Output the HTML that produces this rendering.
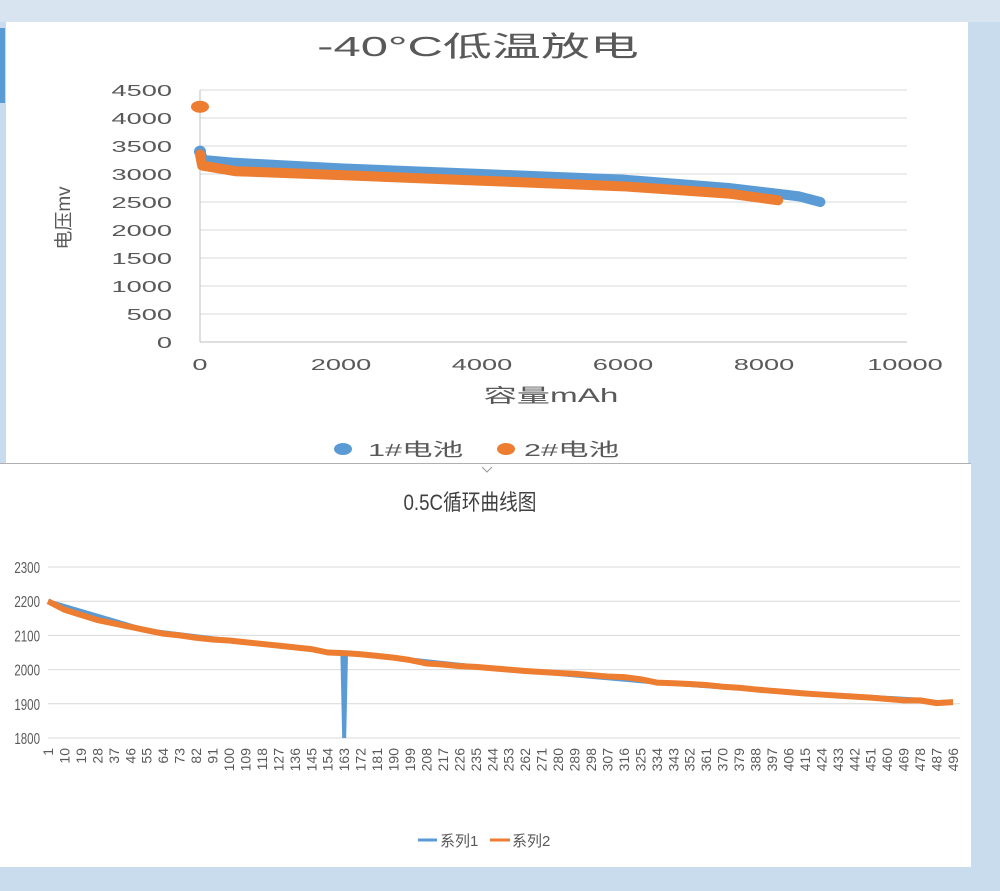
<!DOCTYPE html>
<html><head><meta charset="utf-8"><style>
body{margin:0;width:1000px;height:891px;background:#c9dcee;overflow:hidden;font-family:"Liberation Sans","Noto Sans CJK SC",sans-serif}
svg{position:absolute;left:0;top:0}
</style></head><body>
<svg width="1000" height="891">
<rect x="0" y="0" width="1000" height="22" fill="#d8e5f1"/>
<rect x="0" y="28" width="5" height="75" fill="#5b9bd5"/>
<rect x="6" y="22" width="962" height="441" fill="#ffffff"/>
<rect x="0" y="464" width="971" height="403" fill="#ffffff"/>
<line x1="0" y1="463.5" x2="971" y2="463.5" stroke="#b0b0b0"/>
<path d="M482 467 l5 5 l5 -5" fill="none" stroke="#999"/>
<text x="478" y="56" font-size="28" fill="#595959" text-anchor="middle" transform="translate(478 0) scale(1.75 1) translate(-478 0)">-40°C低温放电</text>
<g id="g1"></g>
<text x="70" y="218" font-size="19" fill="#595959" text-anchor="middle" transform="rotate(-90 70 218)">电压mv</text>
<text x="551" y="402" font-size="19" fill="#595959" text-anchor="middle" transform="translate(551 0) scale(1.75 1) translate(-551 0)">容量mAh</text>
<g><ellipse cx="343" cy="449" rx="9" ry="6" fill="#5b9bd5"/><text x="368" y="456" font-size="18" fill="#595959" transform="translate(368 0) scale(1.7 1) translate(-368 0)">1#电池</text></g>
<g><ellipse cx="506" cy="449" rx="9" ry="6" fill="#ed7d31"/><text x="524" y="456" font-size="18" fill="#595959" transform="translate(524 0) scale(1.7 1) translate(-524 0)">2#电池</text></g>
<text x="470" y="510" font-size="22" fill="#404040" text-anchor="middle" transform="translate(470 0) scale(0.85 1) translate(-470 0)">0.5C循环曲线图</text>
<g id="g2"></g>
<g><line x1="418" y1="840" x2="437" y2="840" stroke="#5b9bd5" stroke-width="3"/><text x="440" y="846" font-size="15" fill="#595959">系列1</text></g>
<g><line x1="490" y1="840" x2="510" y2="840" stroke="#ed7d31" stroke-width="3"/><text x="512" y="846" font-size="15" fill="#595959">系列2</text></g>
</svg>
<script>
const NS="http://www.w3.org/2000/svg";
function mk(t,a,p){const e=document.createElementNS(NS,t);for(const k in a)e.setAttribute(k,a[k]);p.appendChild(e);return e;}
// Chart 1 data
const yTicks1=[0,500,1000,1500,2000,2500,3000,3500,4000,4500];
const xTicks1=[0,2000,4000,6000,8000,10000];
const cap1=[0,50,500,2000,4000,6000,7500,8500,8800];
const volt1=[3400,3250,3200,3100,3000,2900,2750,2600,2500];
const cap2=[0,30,500,2000,4000,6000,7500,8200];
const volt2=[3350,3150,3050,2980,2880,2780,2650,2530];
const outlierCap2=[0];
const outlierVolt2=[4200];
const X1=v=>200+v*(705/10000), Y1=v=>342-v*(252/4500);
const g1=document.getElementById('g1');
function wide(x){return 'translate('+x+' 0) scale(1.7 1) translate('+(-x)+' 0)';}
yTicks1.forEach(t=>{
 const l=mk('line',{x1:200,x2:907,y1:Y1(t),y2:Y1(t),stroke:t?'#d9d9d9':'#bfbfbf'},g1);
 
 
 const tx=mk('text',{x:172,y:Y1(t)+6,'font-size':16,fill:'#595959','text-anchor':'end',transform:wide(172)},g1);tx.textContent=t;
 
 
});
const ax=mk('line',{x1:200,x2:200,y1:90,y2:342,stroke:'#bfbfbf'},g1);


xTicks1.forEach(t=>{
 const x=X1(t);
 const tx=mk('text',{x:x,y:370,'font-size':16,fill:'#595959','text-anchor':'middle',transform:wide(x)},g1);tx.textContent=t;
 
 
});
function pl(xs,ys,X,Y){return xs.map((v,i)=>X(v)+','+Y(ys[i])).join(' ');}
const s1=mk('polyline',{points:pl(cap1,volt1,X1,Y1),fill:'none',stroke:'#5b9bd5','stroke-width':10,'stroke-linecap':'round','stroke-linejoin':'round'},g1);


mk('circle',{cx:X1(cap1[0]),cy:Y1(volt1[0]),r:6,fill:'#5b9bd5'},g1);
const s2=mk('polyline',{points:pl(cap2,volt2,X1,Y1),fill:'none',stroke:'#ed7d31','stroke-width':10,'stroke-linecap':'round','stroke-linejoin':'round'},g1);


outlierCap2.forEach((c,i)=>{const o=mk('ellipse',{cx:X1(c),cy:Y1(outlierVolt2[i]),rx:9,ry:6,fill:'#ed7d31'},g1);
 
 });
// Chart 2 data
const yTicks2=[1800,1900,2000,2100,2200,2300];
const cats2=[1,10,19,28,37,46,55,64,73,82,91,100,109,118,127,136,145,154,163,172,181,190,199,208,217,226,235,244,253,262,271,280,289,298,307,316,325,334,343,352,361,370,379,388,397,406,415,424,433,442,451,460,469,478,487,496];
const vals2=[2200,2175,2160,2145,2135,2125,2115,2105,2100,2093,2088,2085,2080,2075,2070,2065,2060,2050,2048,2045,2040,2035,2028,2018,2015,2010,2008,2004,2000,1996,1993,1990,1988,1984,1980,1978,1972,1962,1960,1958,1955,1950,1947,1942,1938,1934,1930,1927,1924,1921,1918,1914,1910,1910,1902,1905];
const cats1=[1,55,109,154,162,163,164,172,244,334,406,478,487,496];
const vals1=[2200,2115,2080,2052,2049,1800,2048,2045,2004,1962,1934,1912,1905,1907];
const X2=c=>48+(c-1)*(905/495), Y2=v=>738-(v-1800)*(171/500);
const g2=document.getElementById('g2');
yTicks2.forEach(t=>{
 const l=mk('line',{x1:48,x2:960,y1:Y2(t),y2:Y2(t),stroke:'#d9d9d9'},g2);
 
 
 const tx=mk('text',{x:40,y:Y2(t)+6,'font-size':16,fill:'#595959','text-anchor':'end',transform:'translate(40 0) scale(0.72 1) translate(-40 0)'},g2);tx.textContent=t;
 
 
});
cats2.forEach(c=>{
 const x=X2(c)+5;
 const tx=mk('text',{x:x,y:748,'font-size':14,fill:'#595959','text-anchor':'end',transform:'rotate(-90 '+x+' 748)'},g2);tx.textContent=c;
 
 
});
const b=mk('polyline',{points:pl(cats1,vals1,X2,Y2),fill:'none',stroke:'#5b9bd5','stroke-width':4},g2);


const o=mk('polyline',{points:pl(cats2,vals2,X2,Y2),fill:'none',stroke:'#ed7d31','stroke-width':6,'stroke-linejoin':'round'},g2);


</script>
</body></html>
